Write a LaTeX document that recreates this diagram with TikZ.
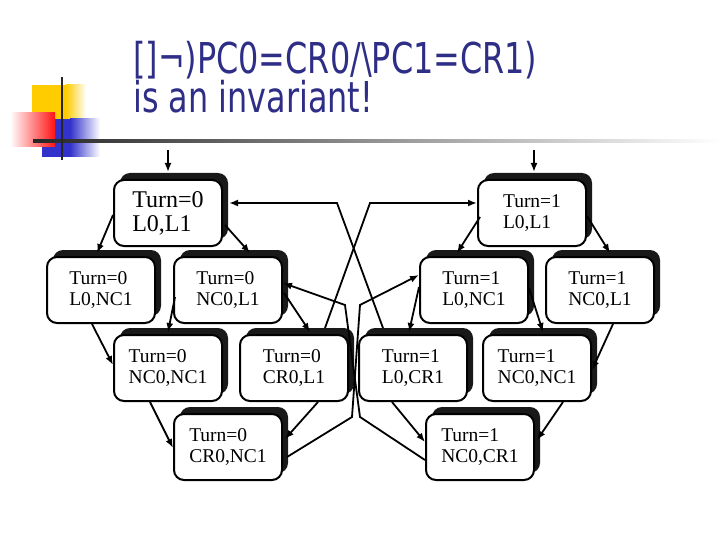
\documentclass[tikz,border=0pt]{standalone}
\usepackage{fontspec}
\setmainfont{Liberation Serif}
\newfontfamily\titlefont[FakeStretch=0.75]{DejaVu Sans}
\usetikzlibrary{arrows.meta,shadows}
\definecolor{titleblue}{RGB}{46,46,135}
\definecolor{iconyellow}{RGB}{255,204,0}
\definecolor{iconblue}{RGB}{51,51,204}
\definecolor{iconred}{RGB}{255,20,20}
\tikzset{
  statebox/.style={draw, line width=2pt, rounded corners=10pt, fill=white,
    minimum width=108pt, minimum height=66pt, inner sep=0pt, align=left,
    font=\fontsize{19.5}{21}\selectfont,
    general shadow={shadow xshift=6pt, shadow yshift=7pt, fill=black!90}},
  titletext/.style={inner sep=0pt, anchor=north west, align=left, text=titleblue,
    font=\titlefont\fontsize{42.5}{37}\selectfont},
  trans/.style={line width=1.8pt, ->},
}
\begin{document}
\begin{tikzpicture}[x=1pt, y=-1pt, >={Latex[length=9pt,width=7pt]}]
\useasboundingbox (0,0) rectangle (720,540);

% slide logo and rule
\fill[iconyellow] (32,85) rectangle (66,119);
\shade[left color=iconyellow, right color=white] (66,85) rectangle (86,119);
\fill[iconblue] (42,119) rectangle (70,157);
\shade[left color=iconblue, right color=white] (70,119) rectangle (100,157);
\shade[left color=white, right color=iconred] (10,113) rectangle (55,147);
\shade[left color=black!85, right color=white] (33,139.5) rectangle (720,142.5);
\draw[line width=2.5pt, black!85] (62,77) -- (62,160);

% title
\node[titletext] (ttl) at (133,41) {[]¬)PC0=CR0/\textbackslash PC1=CR1)\\is an invariant!};

% states
\node[statebox, font=\fontsize{24}{24}\selectfont] (t0ll) at (168,213) {Turn=0\\L0,L1};
\foreach \name/\x/\y/\txt in {
    t1ll/532/213/{Turn=1\\L0,L1},
    t0lnc/101/290/{Turn=0\\L0,NC1},
    t0ncl/228/290/{Turn=0\\NC0,L1},
    t1lnc/474/290/{Turn=1\\L0,NC1},
    t1ncl/600/290/{Turn=1\\NC0,L1},
    t0ncnc/168/368/{Turn=0\\NC0,NC1},
    t0crl/294/368/{Turn=0\\CR0,L1},
    t1lcr/413/368/{Turn=1\\L0,CR1},
    t1ncnc/537/368/{Turn=1\\NC0,NC1},
    t0crnc/228/447/{Turn=0\\CR0,NC1},
    t1nccr/480/447/{Turn=1\\NC0,CR1}}
  \node[statebox] (\name) at (\x,\y) {\txt};

% initial states
\coordinate (in0) at (168,150);
\coordinate (in1) at (534,150);
\draw[trans] (in0) -- ([yshift=7pt]t0ll.north);
\draw[trans] (in1) -- ([xshift=2pt,yshift=7pt]t1ll.north);

% transitions
\draw[trans] ([yshift=-2pt]t0ll.west) -- ([xshift=-4pt,yshift=3pt]t0lnc.north);
\draw[trans] ([xshift=2pt,yshift=-12pt]t0ll.east) -- ([xshift=22pt,yshift=3pt]t0ncl.north);
\draw[trans] ([xshift=3pt,yshift=-4pt]t1ll.west) -- ([xshift=-17pt,yshift=3pt]t1lnc.north);
\draw[trans] ([yshift=-3pt]t1ll.east) -- ([xshift=10pt,yshift=3pt]t1ncl.north);
\draw[trans] ([xshift=-9pt]t0lnc.south) -- ([yshift=3pt]t0ncnc.west);
\draw[trans] ([xshift=2pt,yshift=-7pt]t0ncl.west) -- ([yshift=2pt]t0ncnc.north);
\draw[trans] ([xshift=1pt,yshift=-3pt]t0ncl.east) -- ([xshift=16pt,yshift=2pt]t0crl.north);
\draw[trans] ([yshift=3pt]t1lnc.west) -- ([xshift=-4pt,yshift=2pt]t1lcr.north);
\draw[trans] ([yshift=2pt]t1lnc.east) -- ([xshift=6pt,yshift=2pt]t1ncnc.north);
\draw[trans] ([xshift=13pt]t1ncl.south) -- ([yshift=-2pt]t1ncnc.east);
\draw[trans] ([xshift=-18pt]t0ncnc.south) -- ([yshift=-1pt]t0crnc.west);
\draw[trans] ([xshift=24pt]t0crl.south) -- ([xshift=2pt,yshift=8pt]t0crnc.east);
\draw[trans] ([xshift=-21pt]t1lcr.south) -- ([yshift=5pt]t1nccr.west);
\draw[trans] ([xshift=26pt]t1ncnc.south) -- ([xshift=2pt,yshift=7pt]t1nccr.east);

% leaving the critical region
\draw[trans] ([xshift=-30pt,yshift=6pt]t1lcr.north) -- (337,203) -- ([xshift=6pt,yshift=10pt]t0ll.east);
\draw[trans] ([xshift=31pt,yshift=6pt]t0crl.north) -- (370,203) -- ([yshift=10pt]t1ll.west);
\draw[trans] ([xshift=4pt,yshift=-10pt]t0crnc.east) -- (352,417) -- (360,305) -- ([yshift=15pt]t1lnc.west);
\draw[trans] ([yshift=-13pt]t1nccr.west) -- (360,417) -- (345,305) -- ([yshift=7pt]t0ncl.east);
\end{tikzpicture}
\end{document}
